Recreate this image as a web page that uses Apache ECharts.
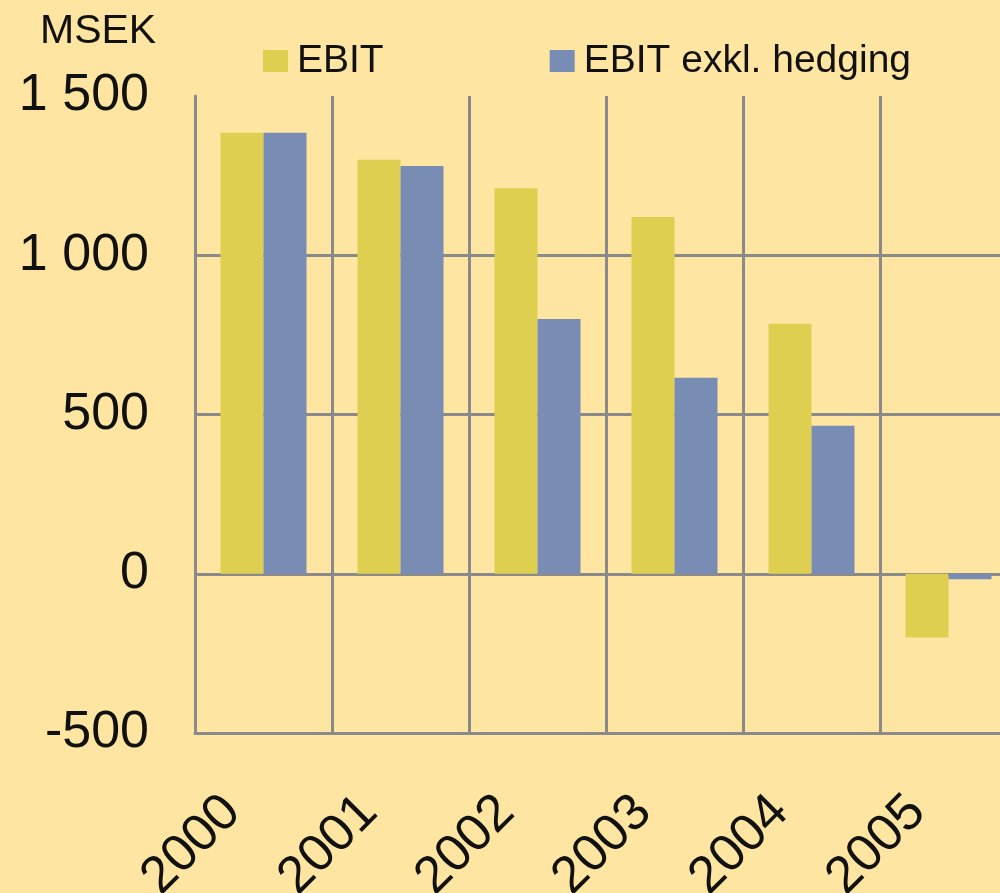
<!DOCTYPE html>
<html>
<head>
<meta charset="utf-8">
<script src="https://cdn.jsdelivr.net/npm/echarts@6/dist/echarts.min.js"></script>
<style>
  html, body { margin: 0; padding: 0; background: #fee5a1; }
  #chart { width: 1000px; height: 893px; }
</style>
</head>
<body>
<div id="chart"></div>
<script>
const years = ['2000', '2001', '2002', '2003', '2004', '2005'];
const ebit = [1385, 1300, 1210, 1120, 785, -200];
const ebitExHedging = [1385, 1280, 800, 615, 465, -17];
const seriesNames = ['EBIT', 'EBIT exkl. hedging'];
const colors = ['#dfcf50', '#788cb4'];

const font = 'Liberation Sans, Arial, sans-serif';
const gridColor = '#8a8a8a';

let mychart = echarts.init(document.getElementById('chart'));
mychart.setOption({
  backgroundColor: '#fee5a1',
  animation: false,
  textStyle: { fontFamily: font, color: '#111' },
  legend: {
    left: 263,
    top: 41,
    padding: 0,
    itemWidth: 25,
    itemHeight: 22,
    itemGap: 166,
    icon: 'rect',
    textStyle: { fontSize: 39, color: '#111', lineHeight: 40, padding: [0, 0, 0, 4] },
    data: seriesNames
  },
  graphic: [{
    type: 'text',
    x: 40,
    y: 32,
    style: { text: 'MSEK', font: '41px ' + font, fill: '#111', textVerticalAlign: 'middle' }
  }],
  grid: { left: 195, top: 96, width: 822, bottom: 160, outerBoundsMode: 'none' },
  xAxis: {
    type: 'category',
    data: years,
    axisLine: { onZero: false, lineStyle: { color: gridColor, width: 3 } },
    axisTick: { show: false },
    splitLine: { show: true, interval: 0, lineStyle: { color: gridColor, width: 3 } },
    axisLabel: {
      rotate: 45,
      interval: 0,
      fontSize: 52,
      color: '#111',
      margin: 40,
      padding: [0, 44, 0, 0]
    }
  },
  yAxis: {
    type: 'value',
    min: -500,
    max: 1500,
    interval: 500,
    axisLine: { show: true, lineStyle: { color: gridColor, width: 3 } },
    axisTick: { show: false },
    splitLine: {
      lineStyle: { color: [gridColor, gridColor, gridColor, gridColor, 'transparent'], width: 3 }
    },
    axisLabel: {
      fontSize: 52,
      color: '#111',
      margin: 46,
      padding: [6, 0, 0, 0],
      formatter: v => String(v).replace(/\B(?=(\d{3})+(?!\d))/g, ' ')
    }
  },
  series: [
    {
      name: seriesNames[0],
      type: 'bar',
      barWidth: 43,
      barGap: '0%',
      itemStyle: { color: colors[0] },
      data: ebit
    },
    {
      name: seriesNames[1],
      type: 'bar',
      barWidth: 43,
      barGap: '0%',
      itemStyle: { color: colors[1] },
      data: ebitExHedging
    }
  ]
});
</script>
</body>
</html>
